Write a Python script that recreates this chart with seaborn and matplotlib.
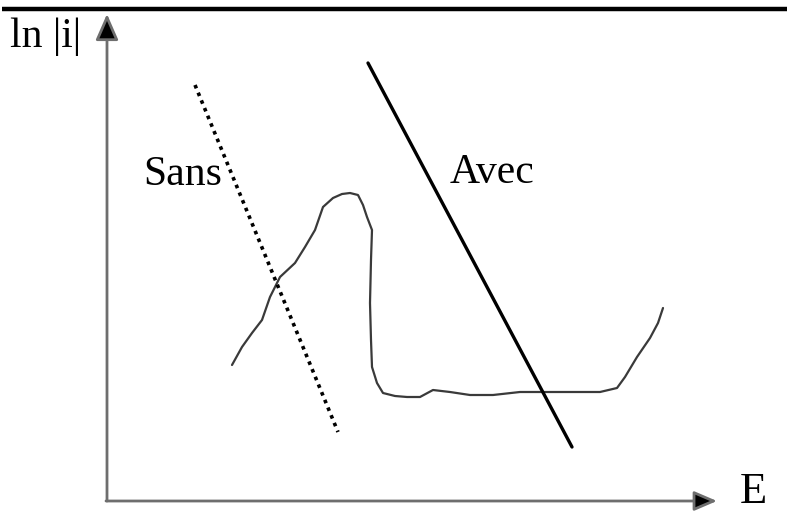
import matplotlib
matplotlib.use('Agg')
import matplotlib.pyplot as plt
import seaborn as sns
import pandas as pd

# 곡선 데이터 (E, ln|i|) - 그림 좌표 기준 (y 아래로 증가)
curve_E = [232, 242, 252, 262, 270, 280, 295, 305, 315, 323, 333, 342, 350, 358, 363, 367,
           372, 371, 370, 371, 372, 377, 383, 395, 407, 420, 433, 450, 470, 493, 520,
           560, 600, 617, 625, 637, 650, 658, 663]
curve_lni = [365, 347, 333, 320, 297, 277, 263, 247, 230, 207, 198, 194, 193, 195, 205, 217,
             230, 260, 303, 340, 367, 383, 393, 396, 397, 397, 390, 392, 395, 395, 392,
             392, 392, 388, 377, 357, 338, 323, 308]

# 직선 (Sans: 점선, Avec: 실선)
sans_E = [195, 338]
sans_lni = [85, 432]
avec_E = [368, 572]
avec_lni = [63, 447]

df = pd.DataFrame({'E': curve_E, 'lni': curve_lni})

sns.set_style('white')
plt.rcParams['font.family'] = ['Liberation Serif', 'DejaVu Serif']

fig = plt.figure(figsize=(7.87, 5.11), dpi=100)
ax = fig.add_axes([0, 0, 1, 1])

# 위쪽 굵은 선
ax.plot([2, 787], [9.5, 9.5], color='black', lw=3.2, solid_capstyle='butt')

# 축 화살표
ax.annotate('', xy=(107, 14), xytext=(107, 501),
            arrowprops=dict(arrowstyle='-|>,head_length=1.6,head_width=0.7',
                            lw=2, shrinkA=0, shrinkB=0, fc='black', ec='#6e6e6e'))
ax.annotate('', xy=(717, 501), xytext=(106, 501),
            arrowprops=dict(arrowstyle='-|>,head_length=1.4,head_width=0.6',
                            lw=2, shrinkA=0, shrinkB=0, fc='black', ec='#6e6e6e'))

sns.lineplot(data=df, x='E', y='lni', sort=False, estimator=None,
             color='#3a3a3a', lw=1.6, ax=ax)
sns.lineplot(x=sans_E, y=sans_lni, estimator=None, color='black', lw=2.6, ax=ax)
ax.lines[-1].set_dashes([1.0, 1.3])
sns.lineplot(x=avec_E, y=avec_lni, estimator=None, color='black', lw=2.4, ax=ax)

ax.set_xlim(0, 787)
ax.set_ylim(511, 0)
ax.axis('off')

ax.text(10, 47, 'ln |i|', fontsize=30, va='baseline', ha='left', color='black')
ax.text(740, 503, 'E', fontsize=32, va='baseline', ha='left', color='black')
ax.text(143, 185, 'Sans', fontsize=30, va='baseline', ha='left', color='black')
ax.text(450, 183, 'Avec', fontsize=30, va='baseline', ha='left', color='black')

fig.savefig('out.png', dpi=100)
